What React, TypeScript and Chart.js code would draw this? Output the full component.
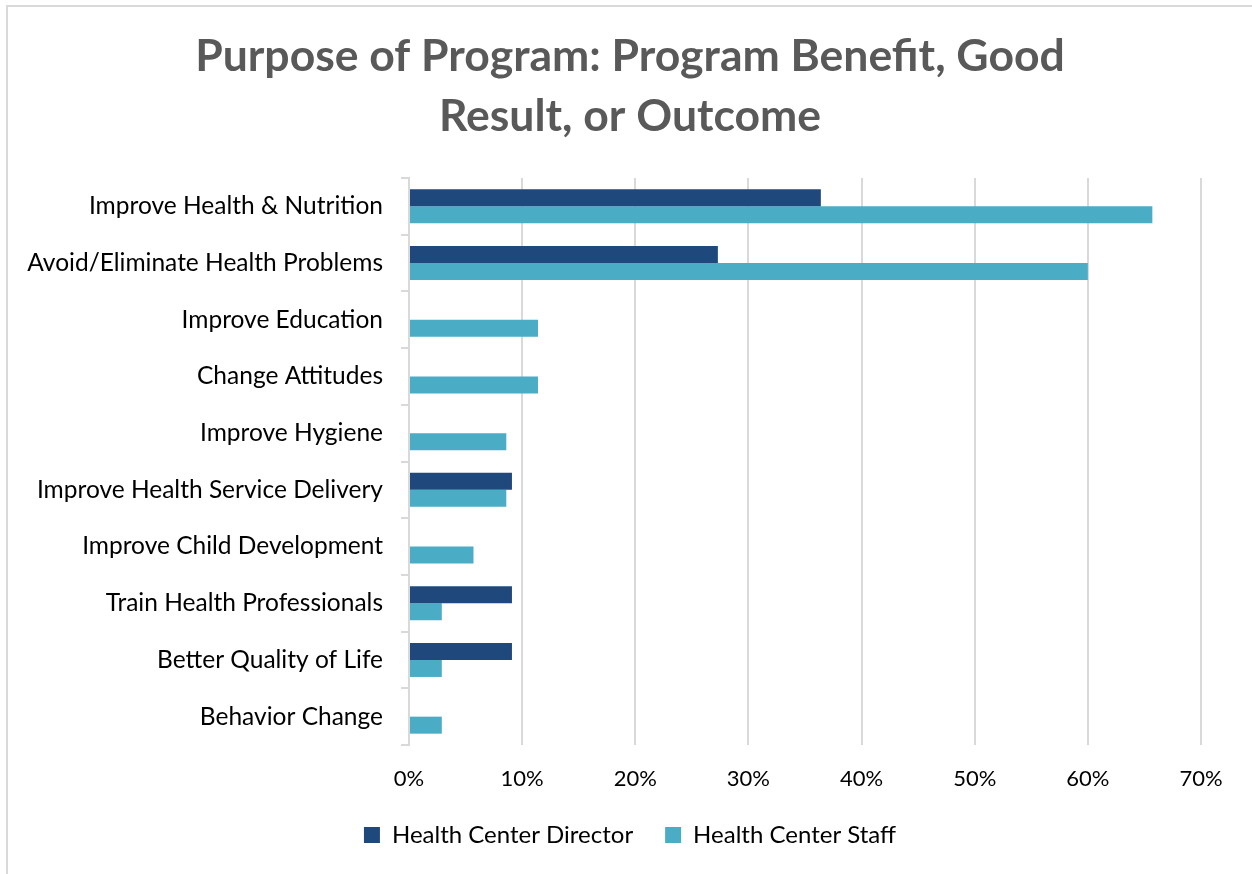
import { useEffect, useRef } from "react";
import { Chart, registerables } from "chart.js";

Chart.register(...registerables);

const categories = [
  "Improve Health & Nutrition",
  "Avoid/Eliminate Health Problems",
  "Improve Education",
  "Change Attitudes",
  "Improve Hygiene",
  "Improve Health Service Delivery",
  "Improve Child Development",
  "Train Health Professionals",
  "Better Quality of Life",
  "Behavior Change",
];
const seriesLabels = ["Health Center Director", "Health Center Staff"];
const directorValues = [36.4, 27.3, 0, 0, 0, 9.1, 0, 9.1, 9.1, 0];
const staffValues = [65.7, 60.0, 11.4, 11.4, 8.6, 8.6, 5.7, 2.9, 2.9, 2.9];
const xTickValues = [0, 10, 20, 30, 40, 50, 60, 70];
const titleLines = ["Purpose of Program: Program Benefit, Good", "Result, or Outcome"];

const FONT = "Lato";

export default function App() {
  const ref = useRef<HTMLCanvasElement | null>(null);

  useEffect(() => {
    document.body.style.overflow = "hidden";
    if (!ref.current) return;
    const chart = new Chart(ref.current, {
      type: "bar",
      data: {
        labels: categories,
        datasets: [
          {
            label: seriesLabels[0],
            data: directorValues,
            backgroundColor: "#1f497d",
            categoryPercentage: 0.6,
            barPercentage: 1.0,
          },
          {
            label: seriesLabels[1],
            data: staffValues,
            backgroundColor: "#4bacc6",
            categoryPercentage: 0.6,
            barPercentage: 1.0,
          },
        ],
      },
      options: {
        indexAxis: "y",
        animation: false,
        responsive: false,
        layout: { padding: { left: 10, right: 2, top: 10, bottom: 17 } },
        plugins: {
          title: {
            display: true,
            text: titleLines,
            color: "#595959",
            font: { family: FONT, size: 44.5, weight: "bold", lineHeight: 60 / 44.5 },
            padding: { top: 17, bottom: 31 },
          },
          legend: {
            position: "bottom",
            labels: {
              font: { family: FONT, size: 24 },
              color: "#000",
              boxWidth: 16,
              boxHeight: 16,
              padding: 32,
            },
          },
          tooltip: { enabled: false },
        },
        scales: {
          x: {
            type: "linear",
            min: 0,
            max: 70,
            afterBuildTicks: (s: any) => {
              s.ticks = xTickValues.map((v) => ({ value: v }));
            },
            afterFit: (s: any) => {
              s.height = 46;
            },
            ticks: {
              callback: (v: any) => v + "%",
              font: { family: FONT, size: 22 },
              color: "#000",
              padding: 21,
            },
            grid: { color: "#d9d9d9", lineWidth: 2, drawTicks: false },
            border: { display: false },
          },
          y: {
            type: "category",
            ticks: {
              font: { family: FONT, size: 24.5 },
              color: "#000",
              padding: 18,
            },
            grid: {
              drawOnChartArea: false,
              color: "#d9d9d9",
              lineWidth: 2,
              tickLength: 8,
              offset: true,
            },
            border: { display: true, color: "#d9d9d9", width: 2 },
            afterFit: (s: any) => {
              s.width = 399;
            },
          },
          y2: {
            type: "linear",
            position: "right",
            display: true,
            ticks: { display: false },
            grid: { display: false },
            border: { display: false },
            afterFit: (s: any) => {
              s.width = 49;
            },
          },
        },
      } as any,
    });
    return () => chart.destroy();
  }, []);

  return (
    <div
      style={{
        position: "absolute",
        left: 0,
        top: 0,
        width: 1252,
        height: 874,
        overflow: "hidden",
        background: "#fff",
      }}
    >
      <div
        style={{
          position: "absolute",
          left: 6,
          top: 5,
          width: 1400,
          height: 1000,
          border: "2px solid #d9d9d9",
        }}
      />
      <canvas
        ref={ref}
        width={1252}
        height={874}
        style={{ position: "absolute", left: 0, top: 0 }}
      />
    </div>
  );
}
